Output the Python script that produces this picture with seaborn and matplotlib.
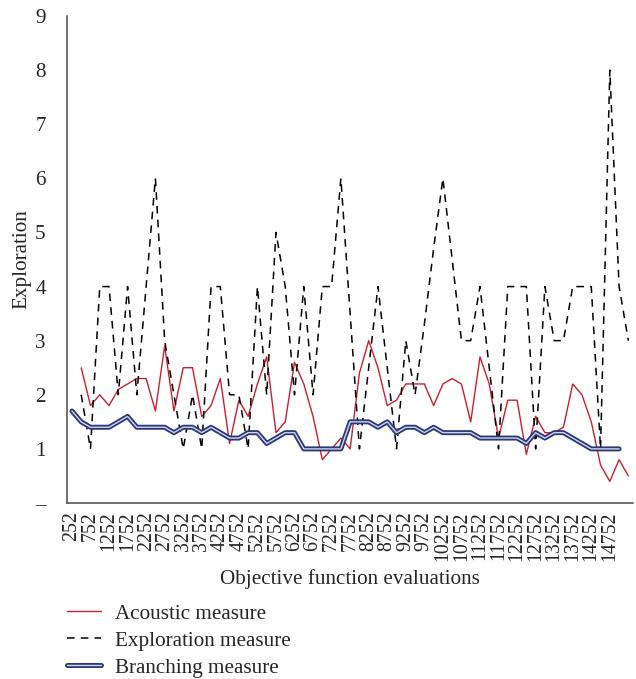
import numpy as np
import pandas as pd
import matplotlib
matplotlib.use("Agg")
import matplotlib.pyplot as plt
import matplotlib.patheffects as pe
import seaborn as sns

nan = np.nan

evaluations = [252, 502, 752, 1002, 1252, 1502, 1752, 2002, 2252, 2502, 2752, 3002,
               3252, 3502, 3752, 4002, 4252, 4502, 4752, 5002, 5252, 5502, 5752, 6002,
               6252, 6502, 6752, 7002, 7252, 7502, 7752, 8002, 8252, 8502, 8752, 9002,
               9252, 9502, 9752, 10002, 10252, 10502, 10752, 11002, 11252, 11502, 11752,
               12002, 12252, 12502, 12752, 13002, 13252, 13502, 13752, 14002, 14252,
               14502, 14752, 15002, 15252]

acoustic = [nan, 2.5, 1.8, 2.0, 1.8, 2.1, 2.2, 2.3, 2.3, 1.7, 2.9, 1.7, 2.5, 2.5, 1.6,
            1.8, 2.3, 1.1, 1.9, 1.6, 2.2, 2.7, 1.3, 1.5, 2.6, 2.2, 1.6, 0.8, 1.0, 1.2,
            1.0, 2.4, 3.0, 2.5, 1.8, 1.9, 2.2, 2.2, 2.2, 1.8, 2.2, 2.3, 2.2, 1.5, 2.7,
            2.2, 1.2, 1.9, 1.9, 0.9, 1.6, 1.3, 1.3, 1.4, 2.2, 2.0, 1.5, 0.7, 0.4, 0.8, 0.5]

exploration = [nan, 2, 1, 4, 4, 2, 4, 2, 4, 6, 3, 2, 1, 2, 1, 4, 4, 2, 2, 1, 4, 2, 5,
               4, 2, 4, 2, 4, 4, 6, 3.5, 1, 2.5, 4, 2.5, 1, 3, 2, 3.3, 4.7, 6, 4.5, 3,
               3, 4, 2.5, 1, 4, 4, 4, 1, 4, 3, 3, 4, 4, 4, 1, 8, 4, 3]

branching = [1.7, 1.5, 1.4, 1.4, 1.4, 1.5, 1.6, 1.4, 1.4, 1.4, 1.4, 1.3, 1.4, 1.4, 1.3,
             1.4, 1.3, 1.2, 1.2, 1.3, 1.3, 1.1, 1.2, 1.3, 1.3, 1.0, 1.0, 1.0, 1.0, 1.0,
             1.5, 1.5, 1.5, 1.4, 1.5, 1.3, 1.4, 1.4, 1.3, 1.4, 1.3, 1.3, 1.3, 1.3, 1.2,
             1.2, 1.2, 1.2, 1.2, 1.1, 1.3, 1.2, 1.3, 1.3, 1.2, 1.1, 1.0, 1.0, 1.0, 1.0, nan]

tick_labels = ["252", "752", "1252", "1752", "2252", "2752", "3252", "3752", "4252",
               "4752", "5252", "5752", "6252", "6752", "7252", "7752", "8252", "8752",
               "9252", "9752", "10252", "10752", "11252", "11752", "12252", "12752",
               "13252", "13752", "14252", "14752"]

y_ticks = [0, 1, 2, 3, 4, 5, 6, 7, 8, 9]
y_tick_labels = ["–", "1", "2", "3", "4", "5", "6", "7", "8", "9"]

series_names = ["Acoustic measure", "Exploration measure", "Branching measure"]

sns.set_style("white")
plt.rcParams["font.family"] = ["Liberation Serif", "DejaVu Serif"]
FS = 15.2
TFS = 14.3

df = pd.DataFrame({
    "evaluations": evaluations,
    "pos": np.arange(len(evaluations)),
    "acoustic": acoustic,
    "exploration": exploration,
    "branching": branching,
})

fig = plt.figure(figsize=(6.36, 6.79), dpi=100)
ax = fig.add_axes([67.3 / 636, 1 - 503 / 679, (633 - 67.3) / 636, (503 - 16) / 679])

sns.lineplot(data=df, x="pos", y="acoustic", ax=ax, color="#c8202f", linewidth=1.0,
             label=series_names[0])
sns.lineplot(data=df, x="pos", y="exploration", ax=ax, color="black", linewidth=1.1,
             linestyle=(0, (5, 4)), label=series_names[1])
sns.lineplot(data=df, x="pos", y="branching", ax=ax, color="#d0d4ea", linewidth=1.0,
             label=series_names[2],
             path_effects=[pe.Stroke(linewidth=3.6, foreground="#2b3878"), pe.Normal()])

ax.set_xlim(-0.5, len(evaluations) - 0.5)
ax.set_ylim(0, 9)

tick_pos = [i for i, e in enumerate(evaluations) if str(e) in tick_labels]
ax.set_xticks(tick_pos)
ax.set_xticklabels(tick_labels, rotation=90, fontsize=TFS)
ax.set_yticks(y_ticks)
ax.set_yticklabels(y_tick_labels, fontsize=FS)
ax.tick_params(axis="both", length=0)
ax.tick_params(axis="y", pad=15.5)
ax.tick_params(axis="x", pad=6)

ax.set_xlabel("Objective function evaluations", fontsize=FS, labelpad=6)
ax.set_ylabel("Exploration", fontsize=FS, labelpad=3)

for s in ["top", "right"]:
    ax.spines[s].set_visible(False)
for s in ["left", "bottom"]:
    ax.spines[s].set_color("#4a4a4a")
    ax.spines[s].set_linewidth(1.1)

ax.get_legend().remove()
handles, labels = ax.get_legend_handles_labels()
fig.legend(handles, labels, loc="upper left", bbox_to_anchor=(67 / 636, 1 - 604 / 679),
           frameon=False, fontsize=FS, handlelength=1.6, handletextpad=0.67,
           labelspacing=0.34, borderpad=0, borderaxespad=0)

fig.savefig("out.png", dpi=100)
